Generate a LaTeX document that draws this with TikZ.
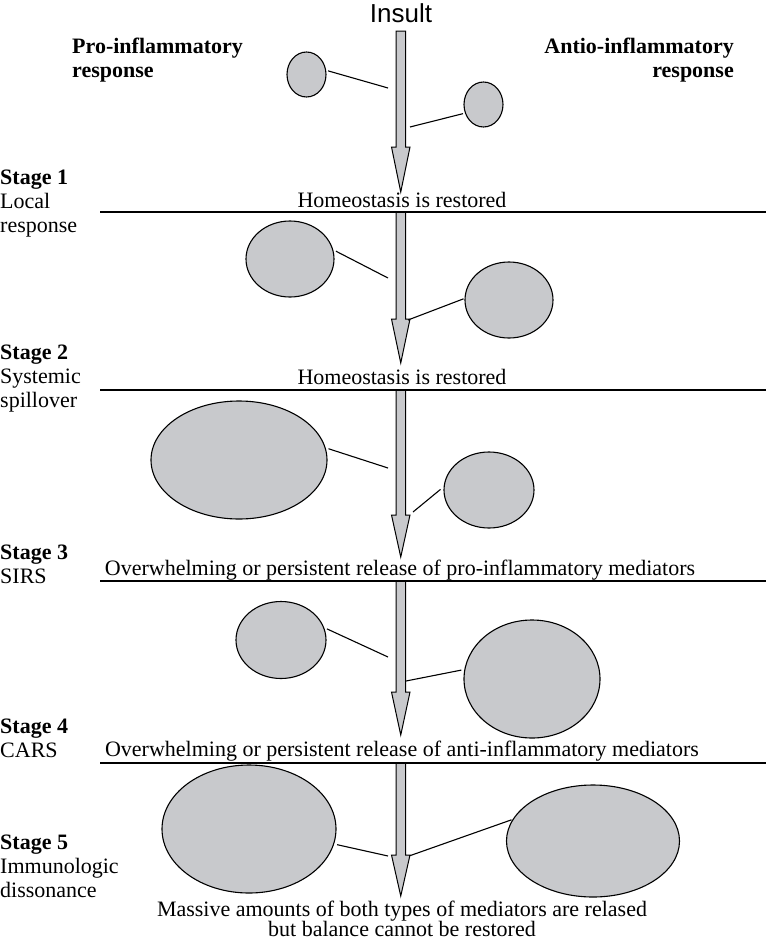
\documentclass[tikz,border=0pt]{standalone}
\usepackage{fontspec}
\setmainfont{Liberation Serif}
\newfontfamily\insultfont{Liberation Sans}
\usetikzlibrary{shapes.geometric}
\definecolor{blobgray}{RGB}{200,201,204}
\newcommand\shaftarrow[3]{\filldraw[arrowsty] (396,#1) -- (396,#2) -- (391.5,#2) -- (400.75,#3) -- (410,#2) -- (405.5,#2) -- (405.5,#1) -- cycle;}
\begin{document}
\begin{tikzpicture}[x=1pt,y=-1pt,
  blob/.style={ellipse, draw=black, line width=1.1pt, fill=blobgray, inner sep=0pt},
  link/.style={line width=1.1pt},
  sepline/.style={line width=1.3pt},
  arrowsty/.style={draw=black, line width=1pt, fill=blobgray, line join=miter},
  lbl/.style={font=\fontsize{22}{24}\selectfont, inner sep=0pt, anchor=base west},
  lblb/.style={lbl, font=\fontsize{22}{24}\selectfont\bfseries},
  lblr/.style={font=\fontsize{22}{24}\selectfont\bfseries, inner sep=0pt, anchor=base east},
  ctr/.style={font=\fontsize{22}{24}\selectfont, inner sep=0pt, anchor=base}]
\useasboundingbox (0,0) rectangle (766,940);

% title
\node[inner sep=0pt, anchor=base, font=\fontsize{26}{28}\insultfont] (insult) at (401,22) {Insult};

% column headers
\node[lblb] (proA) at (72,53) {Pro-inflammatory};
\node[lblb] (proB) at (72,77) {response};
\node[lblr] (antiA) at (734,53) {Antio-inflammatory};
\node[lblr] (antiB) at (734,77) {response};

% stage labels
\node[lblb] (s1a) at (0,184) {Stage 1};
\node[lbl] (s1b) at (0,208) {Local};
\node[lbl] (s1c) at (0,232) {response};
\node[lblb] (s2a) at (0,359) {Stage 2};
\node[lbl] (s2b) at (0,383) {Systemic};
\node[lbl] (s2c) at (0,407) {spillover};
\node[lblb] (s3a) at (0,559) {Stage 3};
\node[lbl] (s3b) at (0,583) {SIRS};
\node[lblb] (s4a) at (0,733) {Stage 4};
\node[lbl] (s4b) at (0,757) {CARS};
\node[lblb] (s5a) at (0,849) {Stage 5};
\node[lbl] (s5b) at (0,873) {Immunologic};
\node[lbl] (s5c) at (0,897) {dissonance};

% arrows
\shaftarrow{31}{147}{192}
\shaftarrow{212}{319}{363}
\shaftarrow{390}{515}{557}
\shaftarrow{581}{692}{735}
\shaftarrow{763}{855}{896}

% separators and their texts
\coordinate (l1a) at (100,212); \coordinate (l1b) at (766,212);
\coordinate (l2a) at (100,390); \coordinate (l2b) at (766,390);
\coordinate (l3a) at (100,581); \coordinate (l3b) at (766,581);
\coordinate (l4a) at (100,763); \coordinate (l4b) at (766,763);
\draw[sepline] (l1a) -- (l1b);
\draw[sepline] (l2a) -- (l2b);
\draw[sepline] (l3a) -- (l3b);
\draw[sepline] (l4a) -- (l4b);
\node[ctr] (t1) at (402,207) {Homeostasis is restored};
\node[ctr] (t2) at (402,384) {Homeostasis is restored};
\node[ctr] (t3) at (400,575) {Overwhelming or persistent release of pro-inflammatory mediators};
\node[ctr] (t4) at (402,756) {Overwhelming or persistent release of anti-inflammatory mediators};
\node[ctr] (t5a) at (402,916) {Massive amounts of both types of mediators are relased};
\node[ctr] (t5b) at (402,936) {but balance cannot be restored};

% segment 1
\node[blob, minimum width=39pt, minimum height=45pt] (p1) at (306.5,74.5) {};
\node[blob, minimum width=39pt, minimum height=45pt] (a1) at (483.5,104.5) {};
\coordinate (p1e) at (388,88); \coordinate (a1e) at (410,127);
\draw[link, shorten <=2pt] (p1.12) -- (p1e);
\draw[link, shorten <=2pt] (a1.205) -- (a1e);

% segment 2
\node[blob, minimum width=88pt, minimum height=76pt] (p2) at (290,259) {};
\node[blob, minimum width=88pt, minimum height=76pt] (a2) at (509,300) {};
\coordinate (p2e) at (388,278); \coordinate (a2e) at (408,320);
\draw[link, shorten <=3pt] (p2.12) -- (p2e);
\draw[link, shorten <=1pt] (a2.178) -- (a2e);

% segment 3
\node[blob, minimum width=176pt, minimum height=118pt] (p3) at (239,460) {};
\node[blob, minimum width=90pt, minimum height=76pt] (a3) at (489,490) {};
\coordinate (p3e) at (388,468); \coordinate (a3e) at (413,512);
\draw[link, shorten <=3pt] (p3.8) -- (p3e);
\draw[link, shorten <=4pt] (a3.176) -- (a3e);

% segment 4
\node[blob, minimum width=90pt, minimum height=77pt] (p4) at (281,640) {};
\node[blob, minimum width=136pt, minimum height=118pt] (a4) at (532,679) {};
\coordinate (p4e) at (388,657); \coordinate (a4e) at (406,681);
\draw[link, shorten <=3pt] (p4.16) -- (p4e);
\draw[link, shorten <=3pt] (a4.172) -- (a4e);

% segment 5
\node[blob, minimum width=174pt, minimum height=128pt] (p5) at (249,829) {};
\node[blob, minimum width=173pt, minimum height=112pt] (a5) at (593,841) {};
\coordinate (p5e) at (388,856); \coordinate (a5e) at (409,856);
\draw[link, shorten <=3pt] (p5.350) -- (p5e);
\draw[link, shorten <=1pt] (a5.165) -- (a5e);
\end{tikzpicture}
\end{document}
